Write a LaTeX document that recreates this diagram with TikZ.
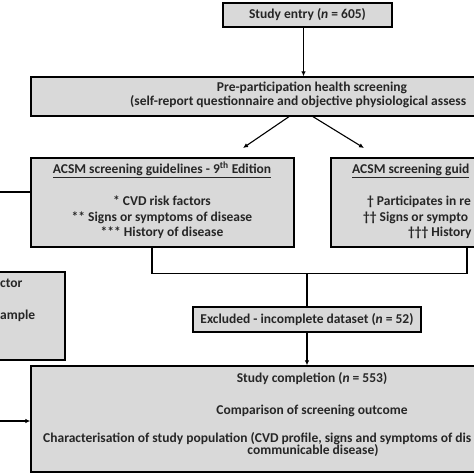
\documentclass[tikz,border=0pt]{standalone}
\usepackage{fontspec}
\setmainfont{Carlito}
\usetikzlibrary{arrows.meta}
\definecolor{boxgray}{HTML}{D9D9D9}
\tikzset{
 box/.style={draw=black, fill=boxgray, line width=1.3pt, inner sep=0pt},
 txt/.style={font=\fontsize{13.5}{15.5}\selectfont\bfseries, inner sep=0pt, text=black!85},
 conn/.style={line width=1.1pt, draw=black},
 arr/.style={conn, -{Latex[length=5pt,width=4.5pt]}},
}
\begin{document}
\begin{tikzpicture}[x=1pt,y=-1pt]
\useasboundingbox (0,0) rectangle (474,474);
\begin{scope}
\clip (0,0) rectangle (474,474);
% boxes
\node[box, minimum width=169pt, minimum height=24pt] (entry) at (307.5,15) {};
\node[box, minimum width=562pt, minimum height=39pt] (pre) at (312,96.5) {};
\node[box, minimum width=263pt, minimum height=89pt] (accL) at (162.5,202.5) {};
\node[box, minimum width=263pt, minimum height=89pt] (accR) at (462.5,202.5) {};
\node[box, minimum width=85pt, minimum height=88pt] (leftbox) at (22.5,316) {};
\node[box, minimum width=228pt, minimum height=25pt] (excl) at (307,319.5) {};
\node[box, minimum width=562pt, minimum height=106pt] (comp) at (312,419) {};
% texts
\node[txt] (tentry) at (entry.center) {Study entry (\textit{n} = 605)};
\node[txt, anchor=mid] (tpre1) at (312,89) {Pre-participation health screening};
\node[txt, anchor=mid west] (tpre2) at (130,103) {(self-report questionnaire and objective physiological assess};
\node[txt, anchor=mid] (tl1) at (162,171) {\underline{ACSM screening guidelines - 9\textsuperscript{th} Edition}};
\node[txt, anchor=mid] (tl2) at (162,203) {* CVD risk factors};
\node[txt, anchor=mid] (tl3) at (162,219) {** Signs or symptoms of disease};
\node[txt, anchor=mid] (tl4) at (162,234) {*** History of disease};
\node[txt, anchor=mid west] (tr1) at (352,171) {\underline{ACSM screening guid}};
\node[txt, anchor=mid west] (tr2) at (367,203) {† Participates in re};
\node[txt, anchor=mid west] (tr3) at (363,219) {†† Signs or sympto};
\node[txt, anchor=mid west] (tr4) at (408,234) {††† History};
\node[txt, anchor=mid west] (tlb1) at (0,285) {ctor};
\node[txt, anchor=mid west] (tlb2) at (0,317) {ample};
\node[txt] (texcl) at (excl.center) {Excluded - incomplete dataset (\textit{n} = 52)};
\node[txt, anchor=mid] (tc1) at (312,380) {Study completion (\textit{n} = 553)};
\node[txt, anchor=mid] (tc2) at (312,412) {Comparison of screening outcome};
\node[txt, anchor=mid west] (tc3) at (43,440) {Characterisation of study population (CVD profile, signs and symptoms of dis};
\node[txt, anchor=mid] (tc4) at (313,452) {communicable disease)};
% connectors
\draw[arr] ([xshift=-4pt]entry.south) -- ([xshift=-4pt]entry.south |- pre.north);
\coordinate (a1) at (243,148);
\coordinate (a2) at (364,148);
\draw[arr] ([xshift=-23pt]pre.south) -- (a1);
\draw[arr] ([xshift=1pt]pre.south) -- (a2);
\coordinate (lin) at (0,192);
\draw[conn] (lin) -- (lin -| accL.west);
\draw[conn] ([xshift=-10.5pt]accL.south) -- ++(0,26) -| ([xshift=4.5pt]accR.south);
\coordinate (j) at (307,273);
\draw[conn] (j) -- (excl.north);
\draw[arr] (excl.south) -- (excl.south |- comp.north);
\coordinate (lin2) at (0,421);
\draw[arr] (lin2) -- (lin2 -| comp.west);
\end{scope}
\end{tikzpicture}
\end{document}
